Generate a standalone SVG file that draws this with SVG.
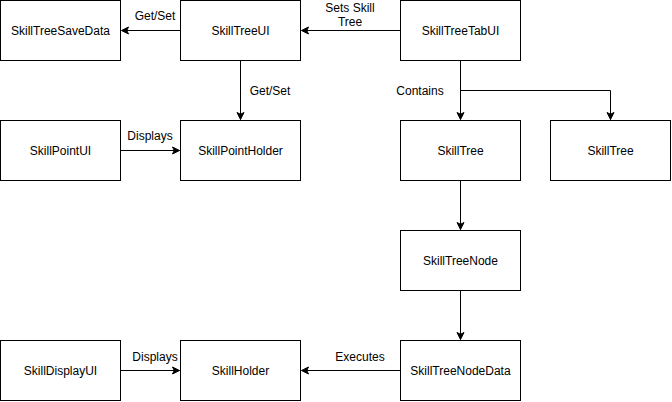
<svg xmlns="http://www.w3.org/2000/svg" width="672" height="402" viewBox="0 0 672 402">
<style>
.box{fill:#fff;stroke:#000;stroke-width:1}
.t{font-family:"Liberation Sans",Arial,sans-serif;font-size:12px;fill:#000;text-anchor:middle}
.c{fill:none;stroke:#000;stroke-width:1;marker-end:url(#arr)}
</style>
<defs>
<marker id="arr" markerUnits="userSpaceOnUse" markerWidth="10" markerHeight="10" viewBox="-8 -5 10 10" refX="0" refY="0" orient="auto" overflow="visible">
<path d="M0,0 L-7,-3.5 L-5.25,0 L-7,3.5 Z" fill="#000" stroke="#000" stroke-width="1"/>
</marker>
</defs>
<rect width="672" height="402" fill="#fff"/>
<g id="connectors">
<path class="c" d="M180.5,30.5 H121.5"/>
<path class="c" d="M400.5,30.5 H301.5"/>
<path class="c" d="M240.5,60.5 V119.5"/>
<path class="c" d="M120.5,150.5 H179.5"/>
<path class="c" d="M460.5,60.5 V119.5"/>
<path class="c" d="M460.5,90.5 H610.5 V119.5"/>
<path class="c" d="M460.5,180.5 V229.5"/>
<path class="c" d="M460.5,290.5 V339.5"/>
<path class="c" d="M400.5,370.5 H301.5"/>
<path class="c" d="M120.5,370.5 H179.5"/>
<text class="t" x="155" y="20">Get/Set</text>
<text class="t" x="350" y="12">Sets Skill</text>
<text class="t" x="350" y="26">Tree</text>
<text class="t" x="270" y="95">Get/Set</text>
<text class="t" x="150" y="140">Displays</text>
<text class="t" x="420" y="95">Contains</text>
<text class="t" x="360" y="361">Executes</text>
<text class="t" x="155" y="361">Displays</text>
</g>
<g id="SkillTreeSaveData"><rect class="box" x="0.5" y="0.5" width="120" height="60"/><text class="t" x="60.5" y="35">SkillTreeSaveData</text></g>
<g id="SkillTreeUI"><rect class="box" x="180.5" y="0.5" width="120" height="60"/><text class="t" x="240.5" y="35">SkillTreeUI</text></g>
<g id="SkillTreeTabUI"><rect class="box" x="400.5" y="0.5" width="120" height="60"/><text class="t" x="460.5" y="35">SkillTreeTabUI</text></g>
<g id="SkillPointUI"><rect class="box" x="0.5" y="120.5" width="120" height="60"/><text class="t" x="60.5" y="155">SkillPointUI</text></g>
<g id="SkillPointHolder"><rect class="box" x="180.5" y="120.5" width="120" height="60"/><text class="t" x="240.5" y="155">SkillPointHolder</text></g>
<g id="SkillTree1"><rect class="box" x="400.5" y="120.5" width="120" height="60"/><text class="t" x="460.5" y="155">SkillTree</text></g>
<g id="SkillTree2"><rect class="box" x="550.5" y="120.5" width="120" height="60"/><text class="t" x="610.5" y="155">SkillTree</text></g>
<g id="SkillTreeNode"><rect class="box" x="400.5" y="230.5" width="120" height="60"/><text class="t" x="460.5" y="265">SkillTreeNode</text></g>
<g id="SkillDisplayUI"><rect class="box" x="0.5" y="340.5" width="120" height="60"/><text class="t" x="60.5" y="375">SkillDisplayUI</text></g>
<g id="SkillHolder"><rect class="box" x="180.5" y="340.5" width="120" height="60"/><text class="t" x="240.5" y="375">SkillHolder</text></g>
<g id="SkillTreeNodeData"><rect class="box" x="400.5" y="340.5" width="120" height="60"/><text class="t" x="460.5" y="375">SkillTreeNodeData</text></g>
</svg>
